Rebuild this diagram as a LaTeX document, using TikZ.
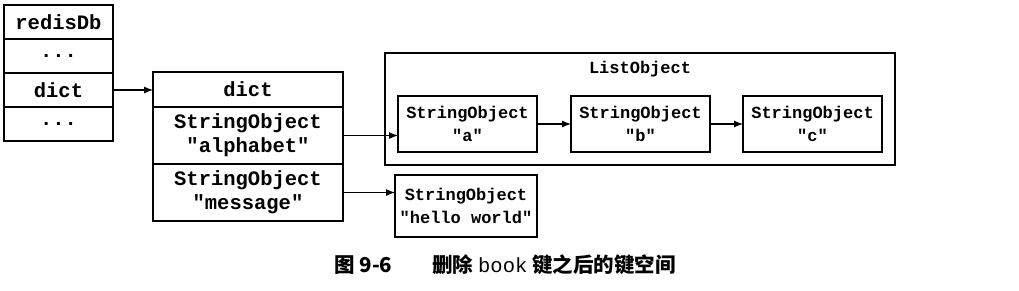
\documentclass[tikz,border=0pt]{standalone}
\usepackage{fontspec}
\setmonofont{Liberation Mono}
\newfontfamily\cjkfont{Noto Sans CJK SC}
\usetikzlibrary{positioning,arrows.meta}
\tikzset{
  cell/.style    = {draw, line width=1.6pt, inner sep=0pt, outer sep=0pt, align=center,
                    font=\fontsize{17}{23}\ttfamily\bfseries},
  bigcell/.style = {cell, font=\fontsize{20.5}{24}\ttfamily\bfseries},
  dbcell/.style  = {bigcell, minimum width=109pt, minimum height=34pt},
  dictcell/.style= {bigcell, minimum width=190pt, minimum height=57pt},
  objbox/.style  = {cell, minimum width=139pt, minimum height=56pt},
  pointer/.style = {-{Latex[length=9pt,width=7pt]}, line width=1.1pt}
}
\begin{document}
\begin{tikzpicture}[x=1pt,y=-1pt]
  \useasboundingbox (0,0) rectangle (1019,290);
  % redisDb
  \node[dbcell, anchor=north west] (db0) at (4,5) {redisDb};
  \node[dbcell, below=0pt of db0] (db1) {...};
  \node[dbcell, below=0pt of db1] (db2) {dict};
  \node[dbcell, below=0pt of db2] (db3) {...};
  % dict
  \node[dictcell, anchor=north west, minimum height=35pt] (d0) at (153,72) {dict};
  \node[dictcell, below=0pt of d0] (d1) {StringObject\\"alphabet"};
  \node[dictcell, below=0pt of d1] (d2) {StringObject\\"message"};
  % list object
  \node[cell, anchor=north west, minimum width=510pt, minimum height=112pt] (lst) at (385,53) {};
  \node[font=\fontsize{17}{23}\ttfamily\bfseries, inner sep=0pt] (lsttitle) at (640,69) {ListObject};
  \node[objbox, anchor=north west] (sa) at (398,96) {StringObject\\"a"};
  \node[objbox, anchor=north west] (sb) at (571,96) {StringObject\\"b"};
  \node[objbox, anchor=north west] (sc) at (743,96) {StringObject\\"c"};
  \node[objbox, anchor=north west, minimum width=142pt, minimum height=62pt] (hw) at (395,175) {StringObject\\"hello world"};

  \draw[pointer] (db2.east) -- (db2.east -| d0.west);
  \draw[pointer] (d1.east) -- (d1.east -| sa.west);
  \draw[pointer] (sa.east) -- (sb.west);
  \draw[pointer] (sb.east) -- (sc.west);
  \draw[pointer] (d2.east) -- (d2.east -| hw.west);

  % caption
  \node[font=\fontsize{20.5}{24}\cjkfont\bfseries, inner sep=0pt] (cap) at (505,265)
    {图 9-6\hspace{40pt}删除 {\ttfamily\mdseries book} 键之后的键空间};
\end{tikzpicture}
\end{document}
